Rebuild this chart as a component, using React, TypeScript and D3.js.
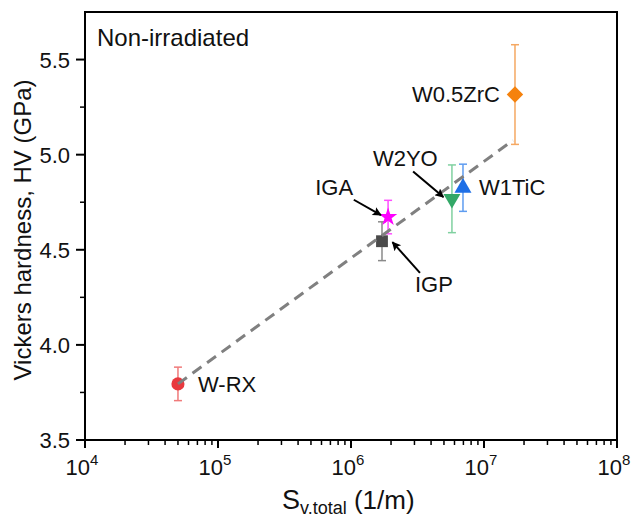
import React, { useEffect } from "react";
import * as d3 from "d3";

// samples, x = S_v,total (1/m), y = HV (GPa), err = half error bar
const names = ["W-RX", "IGP", "IGA", "W2YO", "W1TiC", "W0.5ZrC"];
const svTotal = [5.0e4, 1.71e6, 1.9e6, 5.74e6, 6.95e6, 1.71e7];
const hv = [3.795, 4.545, 4.672, 4.768, 4.826, 5.316];
const hvErr = [0.088, 0.102, 0.088, 0.178, 0.124, 0.262];

// dashed trend line
const fitX = [5.0e4, 1.65e7];
const fitY = [3.795, 5.075];

const yTicks = [3.5, 4.0, 4.5, 5.0, 5.5];
const xTickExp = [4, 5, 6, 7, 8];

const W = 633;
const H = 520;
const margin = { top: 12, right: 16, bottom: 80, left: 85 };

const markerColor = ["#e8393e", "#4a4a4a", "#ff00ff", "#33a867", "#1e6fe6", "#f5820d"];
const barColor = ["#f07a7a", "#8a8a8a", "#ff4dff", "#80d1a0", "#5e9cf0", "#f5a862"];
const symbols = [d3.symbolCircle, d3.symbolSquare, d3.symbolStar, d3.symbolTriangle, d3.symbolTriangle, d3.symbolSquare];
const symbolSize = [135, 140, 105, 125, 125, 135];
const symbolRotate = [0, 0, 0, 180, 0, 45];

// label offsets (px) from each point, and text anchor
const labelDx = [20, 33, -35, -79, 16, -15];
const labelDy = [8, 51, -22, -33, 7, 7];
const labelAnchor = ["start", "start", "end", "start", "start", "end"];

// arrows: [tailX, tailY, headX, headY] in data units
const arrows = [
  [1.05e6, 4.763, 1.68e6, 4.682],
  [2.93e6, 4.911, 4.95e6, 4.777],
  [3.3e6, 4.379, 2.05e6, 4.54],
];

const font = "'Liberation Sans', Arial, Helvetica, sans-serif";

export default function App() {
  useEffect(() => {
    document.body.style.margin = "0";
  }, []);

  const x = d3
    .scaleLog()
    .domain([1e4, 1e8])
    .range([margin.left, W - margin.right]);
  const y = d3
    .scaleLinear()
    .domain([3.5, 5.75])
    .range([H - margin.bottom, margin.top]);

  const x0 = margin.left;
  const x1 = W - margin.right;
  const y0 = H - margin.bottom;
  const y1 = margin.top;

  const minorX: number[] = [];
  for (let e = 4; e < 8; e++) {
    for (let m = 2; m <= 9; m++) minorX.push(m * Math.pow(10, e));
  }
  const minorY = d3.range(3.75, 5.75, 0.5);

  const fitLine = d3
    .line<number>()
    .x((d) => x(fitX[d]))
    .y((d) => y(fitY[d]));

  return (
    <svg width={W} height={H} style={{ display: "block", background: "#fff" }} fontFamily={font}>
      <defs>
        <marker id="arr" viewBox="0 0 10 10" refX="9" refY="5" markerWidth="5.5" markerHeight="4.5" orient="auto">
          <path d="M0,0 L10,5 L0,10 L2,5 Z" fill="#000" />
        </marker>
      </defs>

      {/* frame */}
      <rect x={x0} y={y1} width={x1 - x0} height={y0 - y1} fill="none" stroke="#000" strokeWidth={2} />

      {/* y axis ticks */}
      {yTicks.map((t) => (
        <g key={"y" + t}>
          <line x1={x0 - 9} x2={x0} y1={y(t)} y2={y(t)} stroke="#000" strokeWidth={2} />
          <text x={x0 - 15} y={y(t) + 8} textAnchor="end" fontSize={22} fill="#111">
            {t.toFixed(1)}
          </text>
        </g>
      ))}
      {minorY.map((t) => (
        <line key={"my" + t} x1={x0 - 5} x2={x0} y1={y(t)} y2={y(t)} stroke="#000" strokeWidth={1.5} />
      ))}

      {/* x axis ticks */}
      {xTickExp.map((e) => (
        <g key={"x" + e}>
          <line x1={x(Math.pow(10, e))} x2={x(Math.pow(10, e))} y1={y0} y2={y0 + 8} stroke="#000" strokeWidth={2} />
          <text x={x(Math.pow(10, e)) - 3} y={y0 + 35} textAnchor="middle" fontSize={22} fill="#111">
            10
            <tspan fontSize={15} dy={-10}>
              {e}
            </tspan>
          </text>
        </g>
      ))}
      {minorX.map((v) => (
        <line key={"mx" + v} x1={x(v)} x2={x(v)} y1={y0} y2={y0 + 5} stroke="#000" strokeWidth={1.5} />
      ))}

      {/* axis titles */}
      <text
        transform={`translate(${31},${(y0 + y1) / 2 + 4}) rotate(-90)`}
        textAnchor="middle"
        fontSize={24}
        fill="#111"
      >
        Vickers hardness, HV (GPa)
      </text>
      <text x={282} y={509} fontSize={27} fill="#111">
        S
        <tspan fontSize={18} dy={5}>
          v.total
        </tspan>
        <tspan fontSize={26} dy={-5}>
          {" (1/m)"}
        </tspan>
      </text>

      <text x={97} y={46} fontSize={24} fill="#111">
        Non-irradiated
      </text>

      {/* error bars */}
      {names.map((n, i) => {
        const cx = x(svTotal[i]);
        const top = y(hv[i] + hvErr[i]);
        const bot = y(hv[i] - hvErr[i]);
        return (
          <g key={"e" + n} stroke={barColor[i]} strokeWidth={1.5}>
            <line x1={cx} x2={cx} y1={top} y2={bot} />
            <line x1={cx - 4} x2={cx + 4} y1={top} y2={top} />
            <line x1={cx - 4} x2={cx + 4} y1={bot} y2={bot} />
          </g>
        );
      })}

      {/* markers */}
      {names.map((n, i) => (
        <path
          key={"m" + n}
          d={d3.symbol().type(symbols[i]).size(symbolSize[i])() || ""}
          transform={`translate(${x(svTotal[i])},${y(hv[i])}) rotate(${symbolRotate[i]})`}
          fill={markerColor[i]}
        />
      ))}

      {/* fit line */}
      <path
        d={fitLine([0, 1]) || ""}
        fill="none"
        stroke="#808080"
        strokeWidth={3}
        strokeDasharray="11,7"
      />

      {/* labels */}
      {names.map((n, i) => (
        <text
          key={"l" + n}
          x={x(svTotal[i]) + labelDx[i]}
          y={y(hv[i]) + labelDy[i]}
          textAnchor={labelAnchor[i]}
          fontSize={22}
          fill="#111"
        >
          {n}
        </text>
      ))}

      {/* arrows */}
      {arrows.map((a, i) => (
        <line
          key={"a" + i}
          x1={x(a[0])}
          y1={y(a[1])}
          x2={x(a[2])}
          y2={y(a[3])}
          stroke="#000"
          strokeWidth={2}
          markerEnd="url(#arr)"
        />
      ))}
    </svg>
  );
}
